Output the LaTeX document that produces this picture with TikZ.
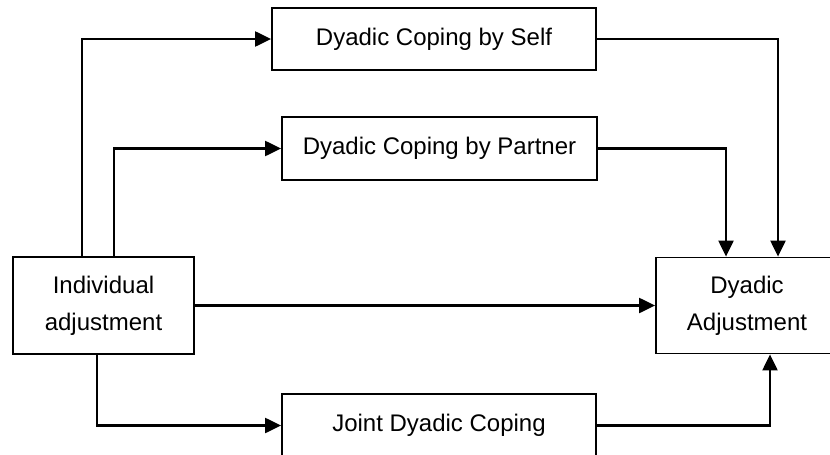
\documentclass[tikz,border=0pt]{standalone}
\usepackage{fontspec}
\setmainfont{Liberation Sans}
\usetikzlibrary{arrows.meta}
\begin{document}
\begin{tikzpicture}[x=0.5pt,y=-0.5pt,
	box/.style={draw,line width=0.9pt,align=center,inner sep=0pt,font=\fontsize{12}{18.5}\selectfont},
	arr/.style={line width=1.1pt,-{Triangle[length=8pt,width=7.5pt]}}]
	\useasboundingbox (0,0) rectangle (830,455);
	\clip (0,0) rectangle (830,455);
	%Khung trai
	\node[box,minimum width=90.5pt,minimum height=48.5pt] (ind) at (103.5,305.5) {Individual\\adjustment};
	%Khung phai
	\node[box,minimum width=91pt,minimum height=48pt] (da) at (747,305.5) {Dyadic\\Adjustment};
	%Khung giua
	\node[box,minimum width=162pt,minimum height=31pt] (self) at (434,39) {Dyadic Coping by Self};
	\node[box,minimum width=157.5pt,minimum height=31.5pt] (partner) at (439.5,148.5) {Dyadic Coping by Partner};
	\node[box,minimum width=157pt,minimum height=31.5pt] (joint) at (439,425.5) {Joint Dyadic Coping};
	%Mui ten vao
	\draw[arr] ([xshift=-10.75pt]ind.north) |- (self.west);
	\draw[arr] ([xshift=5.25pt]ind.north) |- (partner.west);
	\draw[arr] ([xshift=-3.25pt]ind.south) |- (joint.west);
	\draw[arr] (ind.east) -- (da.west);
	%Mui ten ra
	\draw[arr] (self.east) -| ([xshift=15.5pt]da.north);
	\draw[arr] (partner.east) -| ([xshift=-10.5pt]da.north);
	\draw[arr] (joint.east) -| ([xshift=11.5pt]da.south);
\end{tikzpicture}
\end{document}
